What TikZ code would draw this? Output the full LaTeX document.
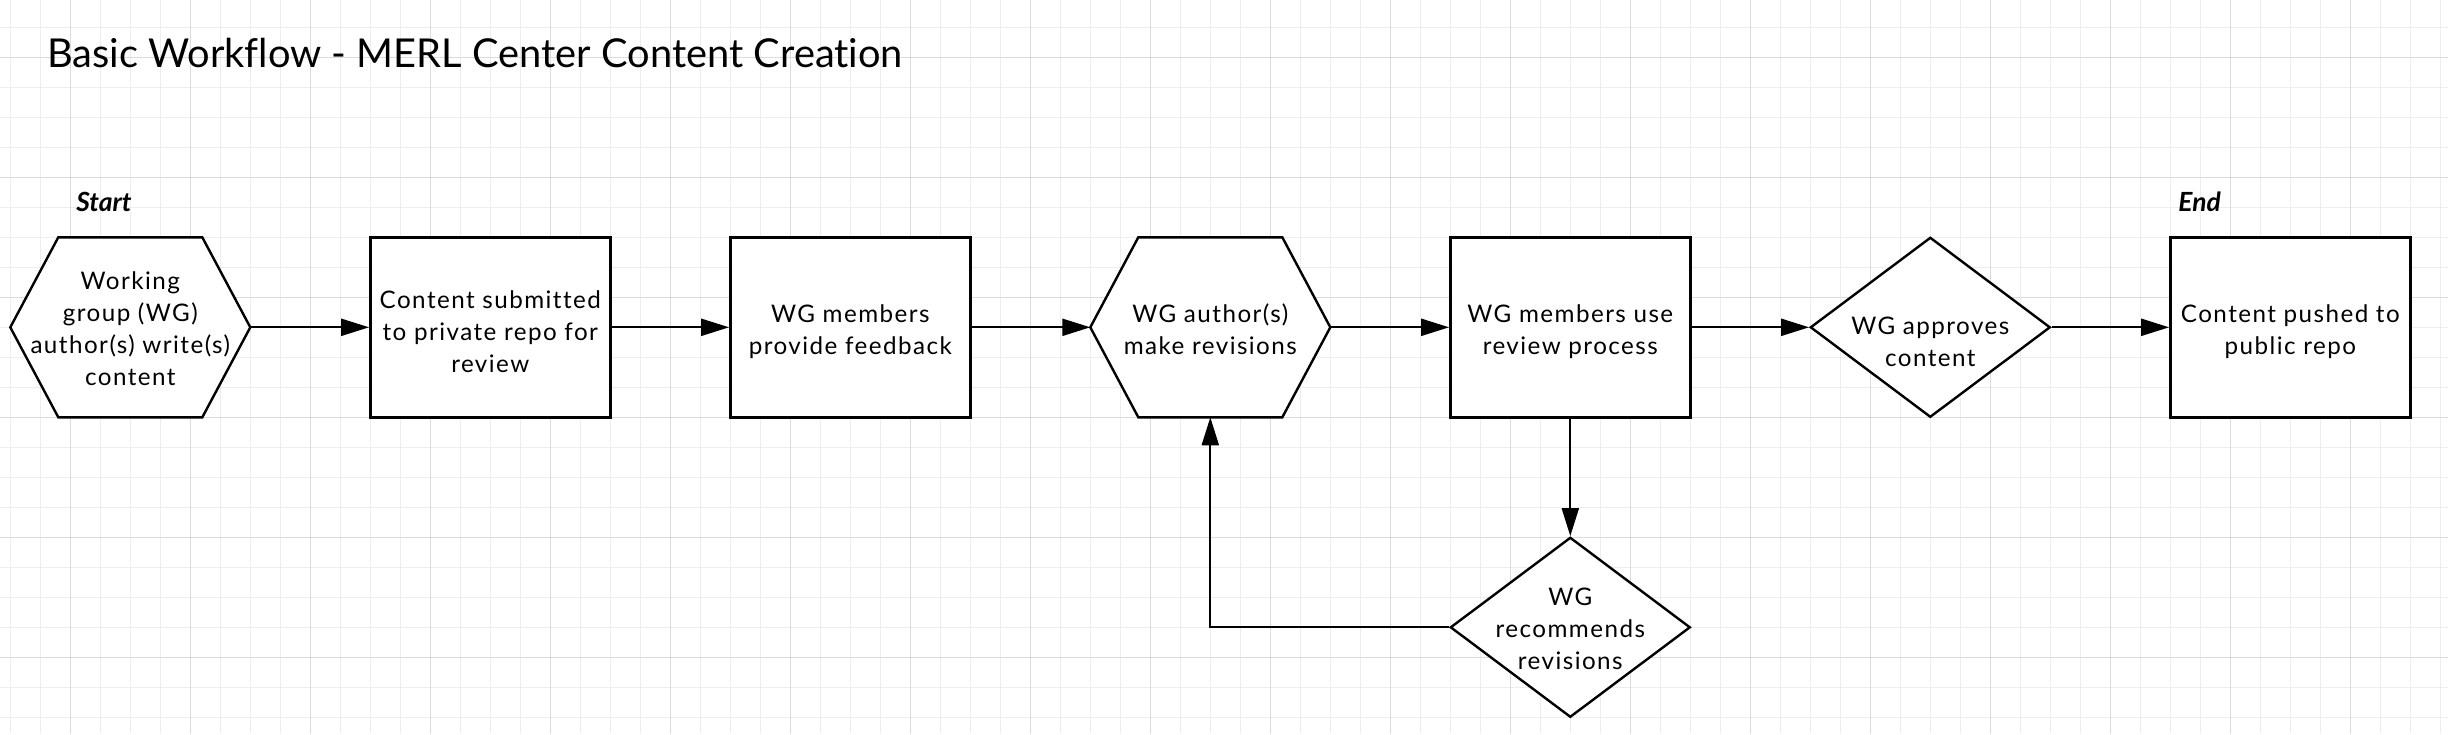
\documentclass[tikz,border=0pt]{standalone}
\usepackage{fontspec}
\setmainfont{Lato}[Ligatures=NoCommon]
\usetikzlibrary{arrows.meta,shapes.geometric}
\definecolor{gridminor}{HTML}{EDEDED}
\definecolor{gridmajor}{HTML}{DCDCDC}
\newcommand{\bodyfont}{\fontsize{12.1pt}{16pt}\selectfont\addfontfeatures{LetterSpace=6}}
\newcommand{\titlefont}{\fontsize{19.9pt}{24pt}\selectfont}
\newcommand{\markfont}{\fontsize{13.2pt}{15pt}\selectfont\bfseries\itshape}
\begin{document}
\begin{tikzpicture}[x=0.5pt,y=-0.5pt,
  border/.style={line width=1.2pt, draw=black, fill=white, line join=miter},
  conn/.style={line width=1.1pt, draw=black, -{Triangle[length=14pt,width=8.5pt]}},
  box/.style={rectangle, border, minimum width=120pt, minimum height=90pt, inner sep=0pt},
  hexholder/.style={rectangle, minimum width=120pt, minimum height=90pt, inner sep=0pt, outer sep=0pt},
  dia/.style={diamond, border, minimum width=120pt, minimum height=90pt, inner sep=0pt},
  bodylabel/.style={font=\bodyfont, align=center, inner sep=0pt},
  steplabel/.style={anchor=base west, inner sep=0pt, font=\markfont},
  hexa/.pic={\draw[border] (-72,-90) -- (72,-90) -- (120,0) -- (72,90) -- (-72,90) -- (-120,0) -- cycle;}
]
\useasboundingbox (0,0) rectangle (2448,734);
\fill[white] (0,0) rectangle (2448,734);
% grid
\foreach \x in {10.3,40.3,...,2448} \draw[gridminor, line width=0.5pt] (\x,0) -- (\x,734);
\foreach \y in {27.3,57.3,...,734} \draw[gridminor, line width=0.5pt] (0,\y) -- (2448,\y);
\foreach \x in {70.3,190.3,...,2448} \draw[gridmajor, line width=0.5pt] (\x,0) -- (\x,734);
\foreach \y in {57.3,177.3,...,734} \draw[gridmajor, line width=0.5pt] (0,\y) -- (2448,\y);

% title and marks
\node[anchor=base west, inner sep=0pt, font=\titlefont] (title) at (47,67.3) {Basic Workflow - MERL Center Content Creation};
\node[steplabel] (start) at (76,211.7) {Start};
\node[steplabel] (end) at (2178,211.7) {End};

% shapes
\pic at (130.3,327.3) {hexa};
\node[hexholder, label={[bodylabel, yshift=-0.5pt]center:{Working\\group (WG)\\author(s) write(s)\\content}}] (n1) at (130.3,327.3) {};
\node[box, label={[bodylabel, yshift=-2.2pt]center:{Content submitted\\to private repo for\\review}}] (n2) at (490.3,327.3) {};
\node[box, label={[bodylabel, yshift=-2.2pt]center:{WG members\\provide feedback}}] (n3) at (850.3,327.3) {};
\pic at (1210.3,327.3) {hexa};
\node[hexholder, label={[bodylabel, yshift=-1.2pt]center:{WG author(s)\\make revisions}}] (n4) at (1210.3,327.3) {};
\node[box, label={[bodylabel, yshift=-2.2pt]center:{WG members use\\review process}}] (n5) at (1570.3,327.3) {};
\node[dia, label={[bodylabel, yshift=-7.3pt]center:{WG approves\\content}}] (n6) at (1930.3,327.3) {};
\node[box, label={[bodylabel, yshift=-2.2pt]center:{Content pushed to\\public repo}}] (n7) at (2290.3,327.3) {};
\node[dia, label={[bodylabel, yshift=-0.8pt]center:{WG\\recommends\\revisions}}] (n8) at (1570.3,627.3) {};

% connectors
\draw[conn] (n1.east) -- (n2.west);
\draw[conn] (n2.east) -- (n3.west);
\draw[conn] (n3.east) -- (n4.west);
\draw[conn] (n4.east) -- (n5.west);
\draw[conn] (n5.east) -- (n6.west);
\draw[conn] (n6.east) -- (n7.west);
\draw[conn] (n5.south) -- (n8.north);
\draw[conn] (n8.west) -| (n4.south);
\end{tikzpicture}
\end{document}
